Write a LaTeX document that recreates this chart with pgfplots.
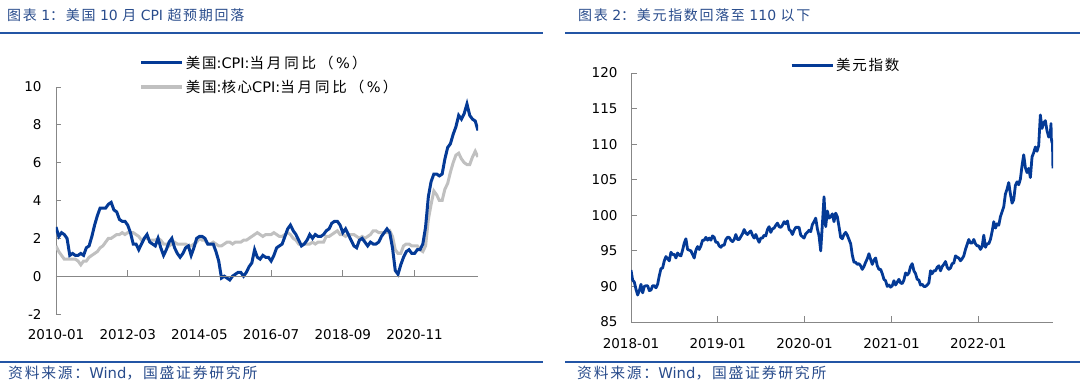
\documentclass[border=0pt]{standalone}
\usepackage{fontspec}
\setmainfont{DejaVu Sans}
\newfontfamily\cjk[LetterSpace=12]{Noto Sans CJK SC}
\newfontfamily\cjkw[LetterSpace=20]{Noto Sans CJK SC}
\usepackage{pgfplots}
\usepackage{pgfplotstable}
\pgfplotsset{compat=1.18}
\definecolor{cpiblue}{RGB}{4,58,150}
\definecolor{coregray}{RGB}{192,192,192}
\definecolor{titleblue}{RGB}{41,76,140}
\definecolor{ruleblue}{RGB}{35,85,165}
\definecolor{axisgray}{RGB}{135,135,135}

\pgfplotstableread{
i cpi core
0 2.6 1.6
1 2.1 1.3
2 2.3 1.1
3 2.2 0.9
4 2.0 0.9
5 1.1 0.9
6 1.2 0.9
7 1.1 0.9
8 1.1 0.8
9 1.2 0.6
10 1.1 0.8
11 1.5 0.8
12 1.6 1.0
13 2.1 1.1
14 2.7 1.2
15 3.2 1.3
16 3.6 1.5
17 3.6 1.6
18 3.6 1.8
19 3.8 2.0
20 3.9 2.0
21 3.5 2.1
22 3.4 2.2
23 3.0 2.2
24 2.9 2.3
25 2.9 2.2
26 2.7 2.3
27 2.3 2.3
28 1.7 2.3
29 1.7 2.2
30 1.4 2.1
31 1.7 1.9
32 2.0 2.0
33 2.2 2.0
34 1.8 1.9
35 1.7 1.9
36 1.6 1.9
37 2.0 2.0
38 1.5 1.9
39 1.1 1.7
40 1.4 1.7
41 1.8 1.6
42 2.0 1.7
43 1.5 1.8
44 1.2 1.7
45 1.0 1.7
46 1.2 1.7
47 1.5 1.7
48 1.6 1.6
49 1.1 1.6
50 1.5 1.7
51 2.0 1.8
52 2.1 2.0
53 2.1 1.9
54 2.0 1.9
55 1.7 1.7
56 1.7 1.7
57 1.7 1.8
58 1.3 1.7
59 0.8 1.6
60 -0.1 1.6
61 0.0 1.7
62 -0.1 1.8
63 -0.2 1.8
64 0.0 1.7
65 0.1 1.8
66 0.2 1.8
67 0.2 1.8
68 0.0 1.9
69 0.2 1.9
70 0.5 2.0
71 0.7 2.1
72 1.4 2.2
73 1.0 2.3
74 0.9 2.2
75 1.1 2.1
76 1.0 2.2
77 1.0 2.2
78 0.8 2.2
79 1.1 2.3
80 1.5 2.2
81 1.6 2.1
82 1.7 2.1
83 2.1 2.2
84 2.5 2.3
85 2.7 2.2
86 2.4 2.0
87 2.2 1.9
88 1.9 1.7
89 1.6 1.7
90 1.7 1.7
91 1.9 1.7
92 2.2 1.7
93 2.0 1.8
94 2.2 1.7
95 2.1 1.8
96 2.1 1.8
97 2.2 1.8
98 2.4 2.1
99 2.5 2.1
100 2.8 2.2
101 2.9 2.3
102 2.9 2.4
103 2.7 2.2
104 2.3 2.2
105 2.5 2.1
106 2.2 2.2
107 1.9 2.2
108 1.6 2.2
109 1.5 2.1
110 1.9 2.0
111 2.0 2.1
112 1.8 2.0
113 1.6 2.1
114 1.8 2.2
115 1.7 2.4
116 1.7 2.4
117 1.8 2.3
118 2.1 2.3
119 2.3 2.3
120 2.5 2.3
121 2.3 2.4
122 1.5 2.1
123 0.3 1.4
124 0.1 1.2
125 0.6 1.2
126 1.0 1.6
127 1.3 1.7
128 1.4 1.7
129 1.2 1.6
130 1.2 1.6
131 1.4 1.6
132 1.4 1.4
133 1.7 1.3
134 2.6 1.6
135 4.2 3.0
136 5.0 3.8
137 5.4 4.5
138 5.4 4.3
139 5.3 4.0
140 5.4 4.0
141 6.2 4.6
142 6.8 4.9
143 7.0 5.5
144 7.5 6.0
145 7.9 6.4
146 8.5 6.5
147 8.3 6.2
148 8.6 6.0
149 9.1 5.9
150 8.5 5.9
151 8.3 6.3
152 8.2 6.6
153 7.7 6.3
}\cpidata

\pgfplotstableread{
w dxy
0 92.3
1 90.9
2 90.6
3 89.6
4 88.8
5 89.4
6 90.3
7 89.1
8 90.0
9 90.1
10 90.1
11 89.4
12 89.5
13 90.1
14 90.1
15 89.8
16 90.3
17 91.5
18 92.5
19 92.6
20 93.6
21 94.2
22 93.9
23 93.6
24 94.8
25 94.5
26 94.5
27 94.0
28 94.7
29 94.4
30 94.3
31 95.1
32 96.1
33 96.7
34 95.2
35 95.1
36 95.0
37 94.5
38 94.0
39 95.1
40 95.6
41 95.2
42 95.7
43 96.5
44 96.5
45 96.9
46 96.5
47 96.8
48 96.5
49 97.1
50 96.9
51 96.2
52 96.2
53 95.7
54 95.5
55 95.8
56 95.8
57 96.6
58 96.9
59 96.9
60 96.5
61 96.3
62 96.6
63 97.3
64 96.6
65 96.6
66 97.0
67 97.4
68 98.0
69 97.5
70 97.3
71 97.6
72 97.8
73 97.2
74 96.8
75 97.3
76 96.7
77 96.2
78 96.8
79 96.8
80 97.2
81 97.1
82 98.0
83 98.4
84 97.6
85 98.1
86 98.2
87 98.6
88 98.9
89 98.4
90 98.3
91 98.6
92 99.1
93 98.8
94 99.2
95 98.0
96 97.8
97 97.3
98 97.9
99 98.3
100 98.3
101 98.3
102 97.2
103 97.0
104 96.8
105 97.4
106 97.6
107 97.9
108 97.7
109 98.7
110 99.1
111 99.6
112 98.1
113 97.1
114 95.0
115 98.7
116 102.6
117 98.4
118 100.6
119 99.6
120 99.8
121 100.2
122 99.1
123 100.3
124 99.8
125 98.4
126 96.9
127 96.7
128 97.3
129 97.6
130 97.2
131 96.6
132 96.0
133 94.4
134 93.4
135 93.4
136 93.1
137 93.2
138 92.9
139 92.4
140 92.8
141 93.4
142 93.9
143 94.6
144 93.8
145 93.1
146 93.7
147 94.0
148 92.9
149 92.4
150 92.4
151 91.8
152 91.0
153 90.8
154 90.0
155 90.2
156 89.9
157 90.1
158 90.8
159 90.2
160 90.6
161 91.0
162 90.5
163 90.4
164 90.9
165 91.9
166 91.6
167 91.9
168 92.8
169 93.2
170 92.2
171 91.8
172 91.0
173 90.9
174 90.2
175 90.3
176 90.0
177 90.0
178 90.2
179 90.5
180 92.2
181 91.8
182 92.2
183 92.2
184 92.7
185 92.9
186 92.2
187 92.8
188 93.1
189 93.5
190 92.7
191 92.4
192 92.6
193 93.2
194 93.3
195 94.3
196 94.1
197 94.0
198 93.6
199 93.9
200 94.3
201 95.2
202 95.9
203 96.6
204 96.1
205 96.1
206 96.6
207 96.0
208 95.7
209 95.7
210 95.2
211 95.6
212 97.2
213 95.5
214 96.0
215 96.0
216 96.6
217 97.7
218 99.1
219 98.2
220 98.8
221 98.6
222 99.8
223 100.5
224 101.2
225 103.0
226 103.7
227 104.6
228 103.0
229 101.7
230 102.2
231 104.2
232 104.7
233 104.3
234 105.1
235 107.0
236 108.5
237 106.7
238 106.0
239 106.6
240 105.3
241 108.2
242 108.8
243 109.6
244 109.0
245 109.8
246 114.1
247 112.2
248 113.0
249 113.3
250 111.9
251 111.0
252 111.5
252.4 112.9
252.6 110.8
253 110.2
253.3 110.4
253.43 108.2
253.57 106.6
}\dxydata

\begin{document}
\begin{tikzpicture}[x=1pt,y=1pt]
\useasboundingbox (0pt,0pt) rectangle (1080pt,-385pt);
% header / footer rules
\fill[ruleblue] (0pt,-32pt) rectangle (543pt,-34.2pt);
\fill[ruleblue] (565pt,-32pt) rectangle (1080pt,-34.2pt);
\fill[ruleblue] (0pt,-361pt) rectangle (543pt,-363.2pt);
\fill[ruleblue] (565pt,-361pt) rectangle (1080pt,-363.2pt);
% titles
\node[anchor=west, text=titleblue, font=\fontsize{14}{16}\selectfont, inner sep=0pt] at (7pt,-15pt)
  {{\cjk 图表} 1{\cjk ：美国} 10 {\cjk 月} CPI {\cjk 超预期回落}};
\node[anchor=west, text=titleblue, font=\fontsize{14}{16}\selectfont, inner sep=0pt] at (578pt,-15pt)
  {{\cjk 图表} 2{\cjk ：美元指数回落至} 110 {\cjk 以下}};
% sources
\node[anchor=west, text=titleblue, font=\fontsize{14.8}{16}\selectfont, inner sep=0pt] at (8pt,-373pt)
  {{\cjk 资料来源：}Wind{\cjk ，国盛证券研究所}};
\node[anchor=west, text=titleblue, font=\fontsize{14.8}{16}\selectfont, inner sep=0pt] at (577pt,-373pt)
  {{\cjk 资料来源：}Wind{\cjk ，国盛证券研究所}};

% ---------- left chart ----------
\begin{axis}[
  at={(56pt,-314pt)}, anchor=south west, scale only axis,
  width=422pt, height=227pt,
  xmin=0, xmax=153, ymin=-2, ymax=10,
  axis lines*=left,
  x axis line style={draw=none},
  y axis line style={draw=axisgray, line width=0.8pt},
  xtick={0,26,52,78,104,130},
  xticklabels={2010-01,2012-03,2014-05,2016-07,2018-09,2020-11},
  xtick style={draw=none},
  ytick={-2,0,2,4,6,8,10},
  ytick style={draw=axisgray, line width=0.8pt},
  tick align=inside, major tick length=5pt,
  /pgf/number format/assume math mode=true,
  tick label style={font=\fontsize{13.5}{16}\selectfont, text=black},
  xticklabel style={yshift=-12pt},
  yticklabel style={xshift=-11pt},
  legend style={draw=none, fill=none, at={(0.19,1.155)}, anchor=north west,
    font=\fontsize{14.5}{16}\selectfont, row sep=6pt},
  legend cell align=left,
  legend image code/.code={\draw[#1] (0pt,0pt) -- (41pt,0pt);},
]
\addplot[coregray, line width=3pt, forget plot] table[x=i, y=core] {\cpidata};
\addplot[cpiblue, line width=3pt] table[x=i, y=cpi] {\cpidata};
\addlegendentry{{\cjk 美国}:CPI:{\cjkw 当月同比（}\,\%\,{\cjk ）}}
\addlegendimage{coregray, line width=3.5pt}
\addlegendentry{{\cjk 美国}:{\cjk 核心}CPI:{\cjkw 当月同比（}\,\%\,{\cjk ）}}
\draw[axisgray, line width=0.8pt] (axis cs:0,0) -- (axis cs:153,0);
\pgfplotsinvokeforeach{26,52,78,104,130}{\draw[axisgray, line width=0.8pt] (axis cs:#1,0) -- ++(0pt,6pt);}
\end{axis}

% ---------- right chart ----------
\begin{axis}[
  at={(631pt,-322pt)}, anchor=south west, scale only axis,
  width=422pt, height=249pt,
  xmin=0, xmax=253.6, ymin=85, ymax=120,
  axis lines*=left,
  axis line style={draw=axisgray, line width=0.8pt},
  xtick={0,52.14,104.29,156.57,208.71},
  xticklabels={2018-01,2019-01,2020-01,2021-01,2022-01},
  ytick={85,90,...,120},
  tick style={draw=axisgray, line width=0.8pt},
  tick align=inside, major tick length=6pt,
  /pgf/number format/assume math mode=true,
  tick label style={font=\fontsize{13.5}{16}\selectfont, text=black},
  xticklabel style={yshift=-13pt},
  yticklabel style={xshift=-10pt},
  legend style={draw=none, fill=none, at={(0.37,1.03)}, anchor=west,
    font=\fontsize{14.5}{16}\selectfont},
  legend image code/.code={\draw[#1] (0pt,0pt) -- (41pt,0pt);},
]
\addplot[cpiblue, line width=2.8pt, line join=round] table[x=w, y=dxy] {\dxydata};
\addlegendentry{{\cjk 美元指数}}
\end{axis}
\end{tikzpicture}
\end{document}
